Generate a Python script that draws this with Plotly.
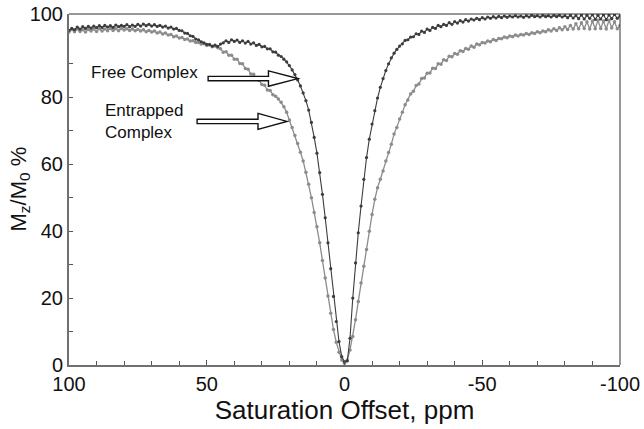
import plotly.graph_objects as go

# Saturation offsets (ppm), 100 down to -100 in 1 ppm steps
offsets_ppm = list(range(100, -101, -1))

free_complex = [
    100.0, 100.6, 100.2, 101.0, 100.4, 101.1, 100.6, 101.2, 100.7, 101.3,   # 100..91
    100.8, 101.4, 100.9, 101.5, 101.0, 101.4, 100.9, 101.6, 101.1, 101.5,   # 90..81
    101.2, 101.7, 101.1, 101.6, 101.2, 101.8, 101.3, 101.9, 101.4, 101.8,   # 80..71
    101.3, 101.7, 101.2, 101.5, 101.0, 101.3, 100.7, 101.0, 100.4, 100.6,   # 70..61
    100.0, 99.9, 99.2, 99.1, 98.4, 98.2, 97.4, 97.2, 96.6, 96.3,            # 60..51
    95.8, 95.8, 95.3, 95.6, 95.2, 95.9, 96.3, 96.9, 96.4, 97.2,             # 50..41
    96.7, 97.1, 96.4, 96.9, 96.2, 96.7, 95.9, 96.3, 95.5, 95.8,             # 40..31
    95.1, 95.2, 94.5, 94.5, 93.6, 93.5, 92.6, 92.2, 91.4, 90.6,             # 30..21
    89.5, 88.2, 86.8, 85.2, 83.4, 81.3, 79.0, 76.2, 72.5, 68.0,             # 20..11
    63.3, 57.5, 51.0, 44.0, 36.5, 28.8, 20.5, 13.0, 7.0, 2.5,               # 10..1
    1.0,                                                                    # 0
    1.2, 8.0, 20.0, 30.5, 39.5, 47.5, 55.5, 62.0, 67.5, 72.0,               # -1..-10
    76.0, 79.8, 83.0, 85.6, 88.0, 90.0, 91.8, 93.2, 94.3, 95.3,             # -11..-20
    96.0, 97.0, 97.2, 98.0, 98.1, 99.0, 98.8, 99.8, 99.4, 100.4,            # -21..-30
    100.0, 100.9, 100.6, 101.5, 101.1, 101.8, 101.5, 102.3, 101.8, 102.6,   # -31..-40
    102.2, 102.9, 102.5, 103.2, 102.8, 103.4, 103.1, 103.6, 103.2, 103.8,   # -41..-50
    103.4, 104.0, 103.6, 104.1, 103.7, 104.2, 103.8, 104.3, 103.9, 104.3,   # -51..-60
    104.0, 104.4, 104.0, 104.3, 103.9, 104.4, 104.0, 104.5, 104.1, 104.4,   # -61..-70
    104.0, 104.5, 104.1, 104.4, 104.0, 104.5, 104.1, 104.5, 104.0, 104.4,   # -71..-80
    103.8, 104.5, 103.7, 104.4, 103.5, 104.6, 103.4, 104.5, 103.6, 104.7,   # -81..-90
    103.3, 104.5, 103.4, 104.7, 103.2, 104.6, 103.5, 104.8, 103.6, 104.3,   # -91..-100
]

entrapped_complex = [
    99.5, 100.3, 99.6, 100.4, 99.7, 100.2, 99.5, 100.3, 99.8, 100.4,        # 100..91
    99.7, 100.5, 99.8, 100.4, 99.9, 100.6, 100.0, 100.5, 99.9, 100.6,       # 90..81
    100.1, 100.5, 100.0, 100.4, 99.9, 100.3, 99.8, 100.2, 99.6, 100.0,      # 80..71
    99.5, 99.8, 99.2, 99.5, 98.9, 99.2, 98.6, 98.8, 98.1, 98.3,             # 70..61
    97.7, 97.9, 97.3, 97.4, 96.8, 96.9, 96.4, 96.4, 95.9, 96.0,             # 60..51
    95.5, 95.6, 95.1, 95.3, 94.8, 94.5, 93.5, 93.6, 92.6, 92.6,             # 50..41
    91.4, 91.4, 90.1, 90.0, 88.6, 88.4, 87.0, 86.9, 85.5, 85.1,             # 40..31
    83.8, 83.6, 82.2, 82.0, 80.8, 80.3, 79.5, 78.5, 77.2, 75.5,             # 30..21
    73.2, 71.0, 68.6, 66.2, 63.6, 61.0, 57.6, 54.0, 50.0, 45.6,             # 20..11
    41.3, 36.5, 31.2, 26.0, 20.6, 15.5, 10.6, 6.8, 3.8, 1.5,                # 10..1
    0.5,                                                                    # 0
    1.5, 4.5, 8.5, 13.5, 19.0, 24.5, 29.5, 34.5, 40.0, 45.0,                # -1..-10
    49.5, 53.0, 55.5, 58.0, 61.0, 63.5, 66.0, 69.0, 71.0, 73.5,             # -11..-20
    75.5, 77.8, 79.2, 81.0, 81.8, 83.5, 84.0, 85.6, 85.8, 87.2,             # -21..-30
    87.3, 88.7, 88.6, 90.0, 89.9, 91.2, 91.0, 92.3, 92.1, 93.1,             # -31..-40
    92.9, 93.9, 93.7, 94.6, 94.4, 95.3, 95.0, 95.9, 95.7, 96.4,             # -41..-50
    96.2, 96.8, 96.6, 97.3, 97.0, 97.6, 97.5, 98.0, 97.8, 98.3,             # -51..-60
    98.1, 98.6, 98.3, 98.8, 98.6, 99.1, 98.8, 99.3, 99.1, 99.6,             # -61..-70
    99.3, 99.8, 99.6, 100.2, 99.8, 100.5, 100.0, 100.8, 100.2, 101.1,       # -71..-80
    100.3, 101.5, 100.4, 102.0, 100.5, 102.3, 100.6, 102.6, 100.4, 102.8,   # -81..-90
    100.5, 103.0, 100.6, 102.8, 100.4, 103.0, 100.7, 102.6, 100.5, 101.5,   # -91..-100
]

x_tick_vals = [100, 50, 0, -50, -100]
x_tick_text = ["100", "50", "0", "-50", "-100"]
y_tick_vals = [0, 20, 40, 60, 80, 104.8]
y_tick_text = ["0", "20", "40", "60", "80", "100"]

FONT = "Arial, Liberation Sans, sans-serif"

fig = go.Figure()
fig.add_trace(go.Scatter(
    x=offsets_ppm, y=entrapped_complex, mode="lines+markers", name="Entrapped Complex",
    line=dict(color="#8c8c8c", width=1.3),
    marker=dict(color="#8c8c8c", size=3.5),
))
fig.add_trace(go.Scatter(
    x=offsets_ppm, y=free_complex, mode="lines+markers", name="Free Complex",
    line=dict(color="#3c3c3c", width=1.1),
    marker=dict(color="#3c3c3c", size=3.2),
))

def hollow_arrow(x_start, x_base, x_tip, yc, shaft_half, head_half):
    return (f"M {x_start},{yc+shaft_half} L {x_base},{yc+shaft_half} L {x_base},{yc+head_half} "
            f"L {x_tip},{yc} L {x_base},{yc-head_half} L {x_base},{yc-shaft_half} "
            f"L {x_start},{yc-shaft_half} Z")

fig.add_shape(type="path", xref="x", yref="y",
              path=hollow_arrow(49.5, 27.6, 16.9, 85.6, 0.65, 2.3),
              line=dict(color="#111111", width=1.4), fillcolor="white")
fig.add_shape(type="path", xref="x", yref="y",
              path=hollow_arrow(53.5, 31.4, 20.9, 72.8, 0.65, 2.4),
              line=dict(color="#111111", width=1.4), fillcolor="white")

# frame top and right (thin dark lines)
fig.add_shape(type="line", xref="paper", yref="paper", x0=0, x1=1, y0=1, y1=1,
              line=dict(color="#333333", width=1))
fig.add_shape(type="line", xref="paper", yref="paper", x0=1, x1=1, y0=0, y1=1,
              line=dict(color="#333333", width=1))

fig.add_annotation(x=72.5, y=87.3, xref="x", yref="y", text="Free Complex",
                   showarrow=False, font=dict(family=FONT, size=17, color="#111111"))
fig.add_annotation(x=87.8, y=72.8, xref="x", yref="y", text="Entrapped<br>Complex",
                   showarrow=False, xanchor="left", align="left",
                   font=dict(family=FONT, size=17, color="#111111"))

# y-axis title placed as rotated text left of the tick labels
fig.add_annotation(x=0, y=0.5, xref="paper", yref="paper", xshift=-50,
                   xanchor="center", yanchor="middle",
                   text="M<sub>z</sub>/M<sub>0</sub> %", textangle=-90, showarrow=False,
                   font=dict(family=FONT, size=22, color="#111111"))

fig.update_layout(
    width=644, height=429,
    margin=dict(l=69, r=24, t=14, b=64, autoexpand=False),
    paper_bgcolor="white", plot_bgcolor="white",
    showlegend=False,
    font=dict(family=FONT, color="#111111"),
)
fig.update_xaxes(
    range=[100, -100], showgrid=False, zeroline=False, automargin=False,
    showline=True, linecolor="#707070", linewidth=2, ticklabeloverflow="allow",
    ticks="inside", ticklen=5, tickwidth=1.3, tickcolor="#555555",
    tickmode="array", tickvals=x_tick_vals, ticktext=x_tick_text,
    minor=dict(ticks="inside", ticklen=4, tickcolor="#555555", dtick=10, tick0=0, showgrid=False),
    tickfont=dict(family=FONT, size=20, color="#111111"),
    title=dict(text="Saturation Offset, ppm", font=dict(family=FONT, size=26, color="#111111"), standoff=1),
)
fig.update_yaxes(
    range=[0, 104.9], showgrid=False, zeroline=False, automargin=False,
    showline=True, linecolor="#707070", linewidth=2, ticklabeloverflow="allow",
    ticks="inside", ticklen=4, tickwidth=1.2, tickcolor="#555555",
    tickmode="array", tickvals=y_tick_vals, ticktext=y_tick_text,
    minor=dict(ticks="inside", ticklen=4, tickcolor="#555555", tickvals=[10, 30, 50, 70, 90], showgrid=False),
    tickfont=dict(family=FONT, size=20, color="#111111"),
)

fig.write_html("out.html", config={"displayModeBar": False},
               post_script="document.body.style.margin='0';document.body.style.overflow='hidden';")
